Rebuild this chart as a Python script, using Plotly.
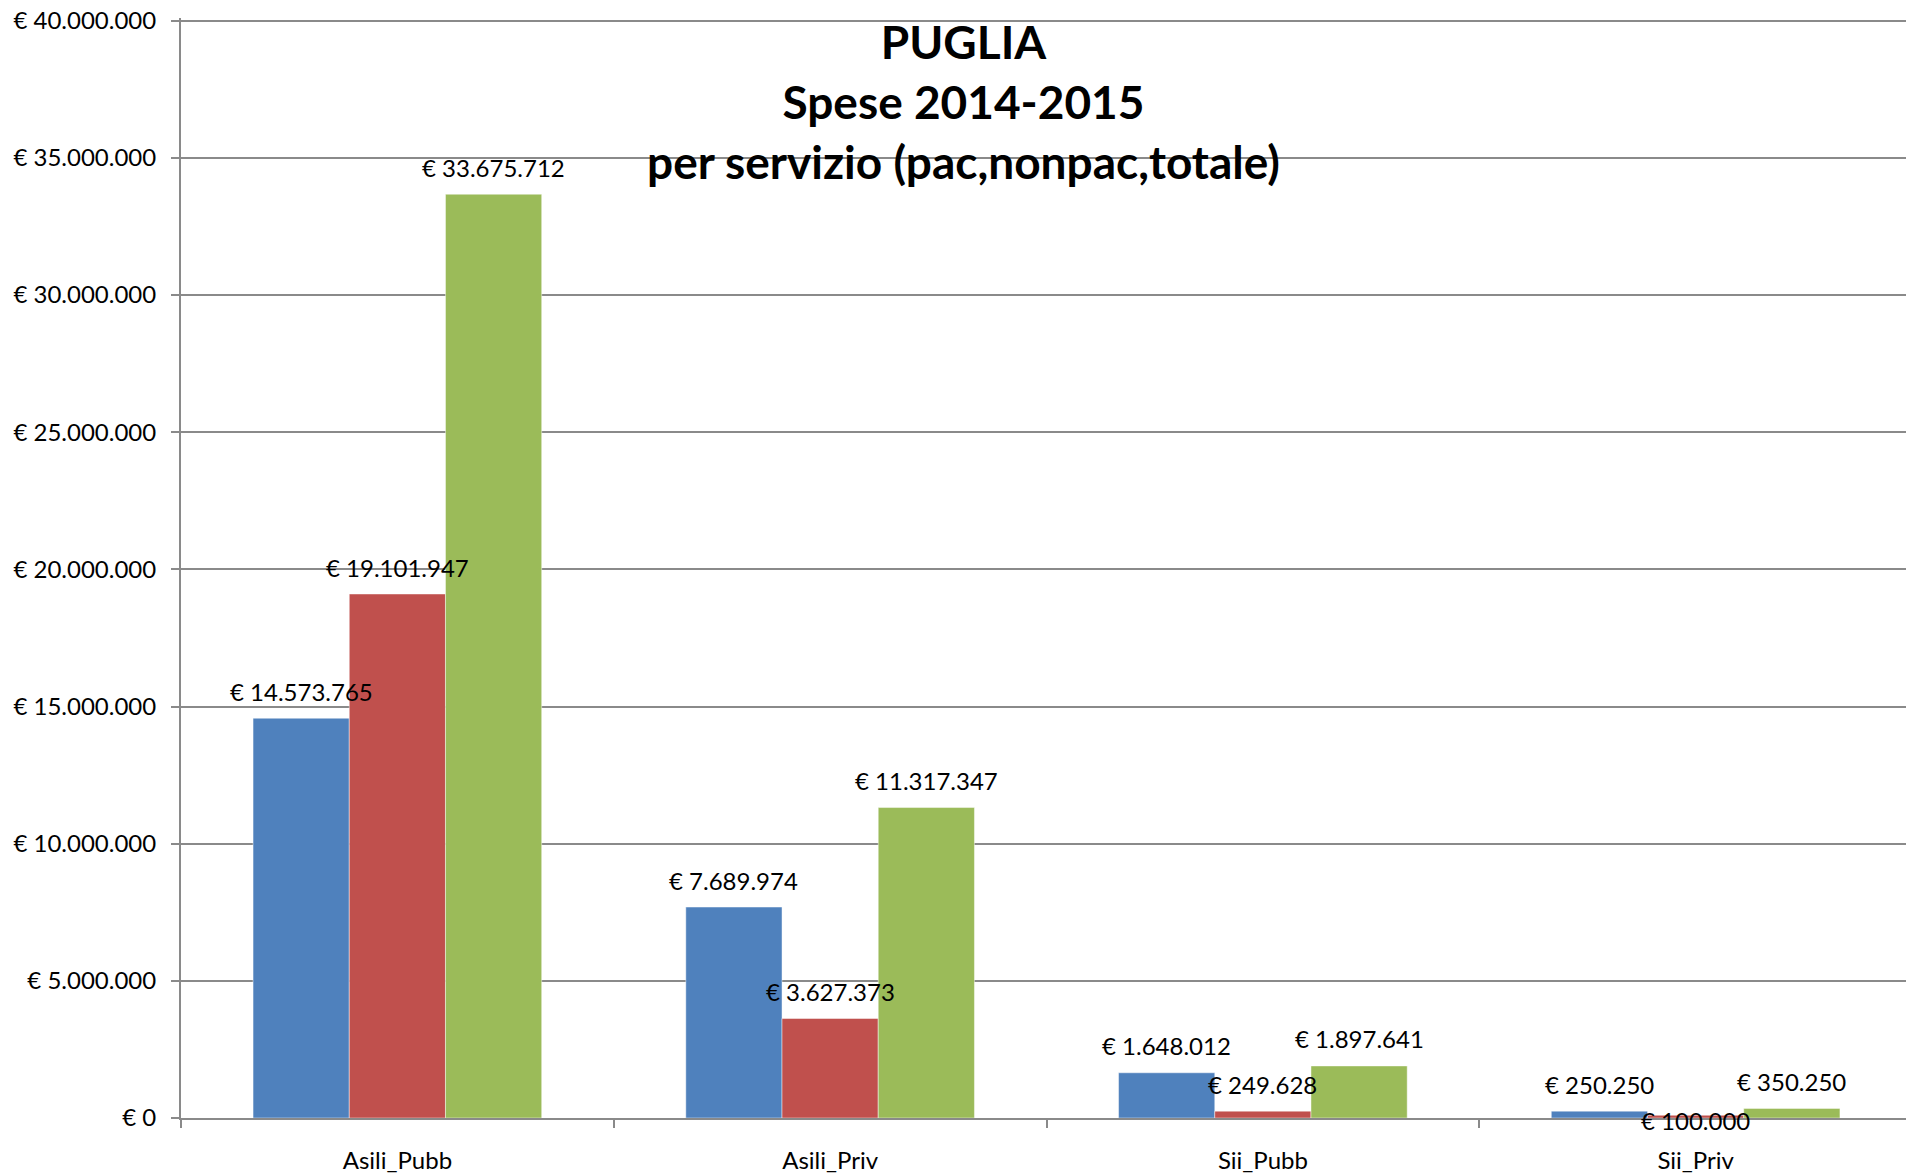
import plotly.graph_objects as go

categories = ["Asili_Pubb", "Asili_Priv", "Sii_Pubb", "Sii_Priv"]
pac = [14573765, 7689974, 1648012, 250250]
nonpac = [19101947, 3627373, 249628, 100000]
totale = [33675712, 11317347, 1897641, 350250]
y_tick_vals = [0, 5000000, 10000000, 15000000, 20000000, 25000000, 30000000, 35000000, 40000000]
y_tick_text = ["€ 0", "€ 5.000.000", "€ 10.000.000", "€ 15.000.000", "€ 20.000.000",
               "€ 25.000.000", "€ 30.000.000", "€ 35.000.000", "€ 40.000.000"]

FONT = "Lato, 'Open Sans', sans-serif"
GRID = "#8a8a8a"
W, H = 1914, 1175
Y_MAX = 40000000
Y_TOP = 40100000          # tiny headroom so the top gridline is drawn
SCALE_PX = 1097           # pixels from 0 to Y_MAX
ML, MR, MB = 173, 10, 65
PLOT_H = SCALE_PX * Y_TOP / Y_MAX
MT = H - MB - PLOT_H
BARGAP = 0.333
LABEL_SIZE = 24

series = [("pac", pac, "#4F81BD"), ("nonpac", nonpac, "#C0504D"), ("totale", totale, "#9BBB59")]

fig = go.Figure()
for name, vals, color in series:
    fig.add_trace(go.Bar(
        x=categories, y=vals, name=name,
        marker=dict(color=color, line=dict(color="rgba(255,255,255,0.45)", width=1)),
        hovertemplate="€ %{y:,.0f}<extra>" + name + "</extra>",
    ))

# data labels placed above each bar (Excel "outside end" style)
plot_w = W - ML - MR
cat_w = plot_w / len(categories)
bar_px = cat_w * (1 - BARGAP) / len(series)
label_shift_override = {("nonpac", "Sii_Priv"): -5}
annotations = []
for i, (name, vals, color) in enumerate(series):
    for cat, v in zip(categories, vals):
        annotations.append(dict(
            x=cat, y=v, xref="x", yref="y",
            text="€ " + f"{v:,.0f}".replace(",", "."),
            showarrow=False, xanchor="center", yanchor="middle",
            xshift=(i - (len(series) - 1) / 2) * bar_px,
            yshift=label_shift_override.get((name, cat), 27),
            font=dict(family=FONT, size=LABEL_SIZE, color="black"),
        ))

annotations.append(dict(
    text="<b>PUGLIA<br>Spese 2014-2015<br>per servizio (pac,nonpac,totale)</b>",
    xref="paper", yref="y", x=(963 - 8 - ML) / plot_w, y=Y_MAX,
    xanchor="center", yanchor="top", yshift=9, showarrow=False,
    font=dict(family=FONT, size=46, color="black"),
))

fig.update_layout(
    width=W, height=H,
    separators=",.",
    barmode="group", bargap=BARGAP, bargroupgap=0,
    showlegend=False,
    plot_bgcolor="white", paper_bgcolor="white",
    font=dict(family=FONT, size=24, color="black"),
    margin=dict(l=ML, r=MR, t=MT, b=MB, autoexpand=False),
    annotations=annotations,
)
fig.update_yaxes(
    range=[0, Y_TOP], tickvals=y_tick_vals, ticktext=y_tick_text,
    showgrid=True, gridcolor=GRID, gridwidth=2,
    showline=True, linecolor=GRID, linewidth=2,
    ticks="outside", ticklen=8, tickcolor=GRID, tickwidth=2,
    zeroline=False, ticklabelstandoff=10, automargin=False,
    ticklabeloverflow="allow",
    tickfont=dict(family=FONT, size=24, color="black"),
)
fig.update_xaxes(
    showline=True, linecolor=GRID, linewidth=2,
    ticks="outside", ticklen=8, tickcolor=GRID, tickwidth=2,
    tickson="boundaries", ticklabelstandoff=20, automargin=False,
    tickfont=dict(family=FONT, size=24, color="black"),
)

fig.write_html("out.html")
